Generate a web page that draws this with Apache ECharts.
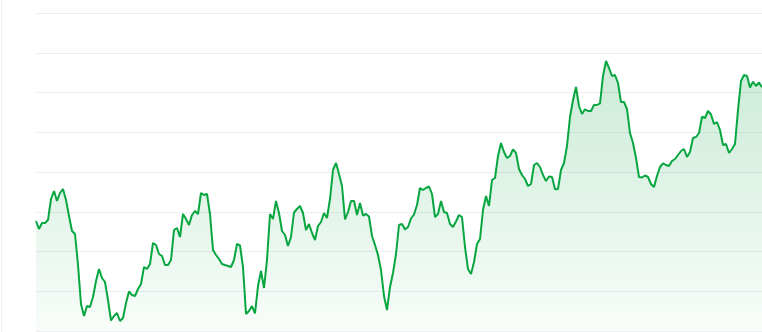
<!DOCTYPE html>
<html>
<head>
<meta charset="utf-8">
<script src="https://cdn.jsdelivr.net/npm/echarts@6/dist/echarts.min.js"></script>
<style>
  html, body { margin: 0; padding: 0; background: #fff; }
  #wrap { position: relative; width: 762px; height: 332px; }
  #edge { position: absolute; left: 1px; top: 0; width: 1px; height: 332px; background: #f1f2f4; }
  #chart { position: absolute; left: 0; top: 0; width: 762px; height: 332px; }
</style>
</head>
<body>
<div id="wrap"><div id="edge"></div><div id="chart"></div></div>
<script>
const prices = [
  110,102,108,108,111,132,140,130,138,142,131,115,100,97,66,27,15,25,24,34,
  50,62,53,49,31,10.5,15,18,10,13,28,39.5,36,35,42,47,64,62,67,88,
  86,77,75,66,66,71,101,103,94,117,112,106,116,120,117,138,136,137,117,81,
  76,72,67,66,65,64,71,87,85.5,64,17,20,25,17.5,45,60,43,71,117,112,
  130,118,100,96,85,94,118.5,122,125,118,101,107,98,91,105,109,118,113,132,161,
  168,157,145,111.5,119,130,130,116,128,115.5,117,114.5,95,86,76,61,35,21,44,58,
  77,106,107,101.5,104,112.5,116.5,126,143,141,143,144.5,137,114,117,130,119,118,107,104,
  109.5,116,114,84,62,57,69,87,92,121,135,125,151,153,175,188,179,173,175,181.7,
  178,162,156,152,145,147,166,168,164,156,150,154.5,154,141.7,142,161,168,185,214,231,
  244,225,217,221.7,220,220,226,226,227.7,255,270,263,255,256,248,229,229,222,198,188,
  173,154,153.5,155.5,154,147,144,155,164,167.7,166,165,170,172,176,180,182,174,179,193,
  194,198,214.3,213,220,216.5,207,209,201,186,187,178,182,187,221,250,256,255,243.5,249.3,
  245,248.5,243.7
];
const days = prices.map((_, i) => String(i + 1));
const yMin = 0;
const yMax = 318;
const yStep = 39.75;

const chart = echarts.init(document.getElementById('chart'), null, { renderer: 'canvas' });
chart.setOption({
  animation: false,
  backgroundColor: 'transparent',
  grid: { left: 36, right: 0, top: 13, bottom: 1, containLabel: false },
  xAxis: {
    type: 'category',
    data: days,
    boundaryGap: false,
    show: true,
    axisLine: { show: false },
    axisTick: { show: false },
    axisLabel: { show: false },
    splitLine: { show: false }
  },
  yAxis: {
    type: 'value',
    min: yMin,
    max: yMax,
    interval: yStep,
    axisLine: { show: false },
    axisTick: { show: false },
    axisLabel: { show: false },
    splitLine: { show: true, lineStyle: { color: '#eceef1', width: 1 } }
  },
  series: [{
    type: 'line',
    data: prices,
    symbol: 'none',
    smooth: false,
    lineStyle: { color: '#08a640', width: 2 },
    areaStyle: {
      color: new echarts.graphic.LinearGradient(0, 0, 0, 1, [
        { offset: 0, color: 'rgba(22,166,74,0.32)' },
        { offset: 1, color: 'rgba(22,166,74,0.04)' }
      ])
    }
  }]
});
</script>
</body>
</html>
